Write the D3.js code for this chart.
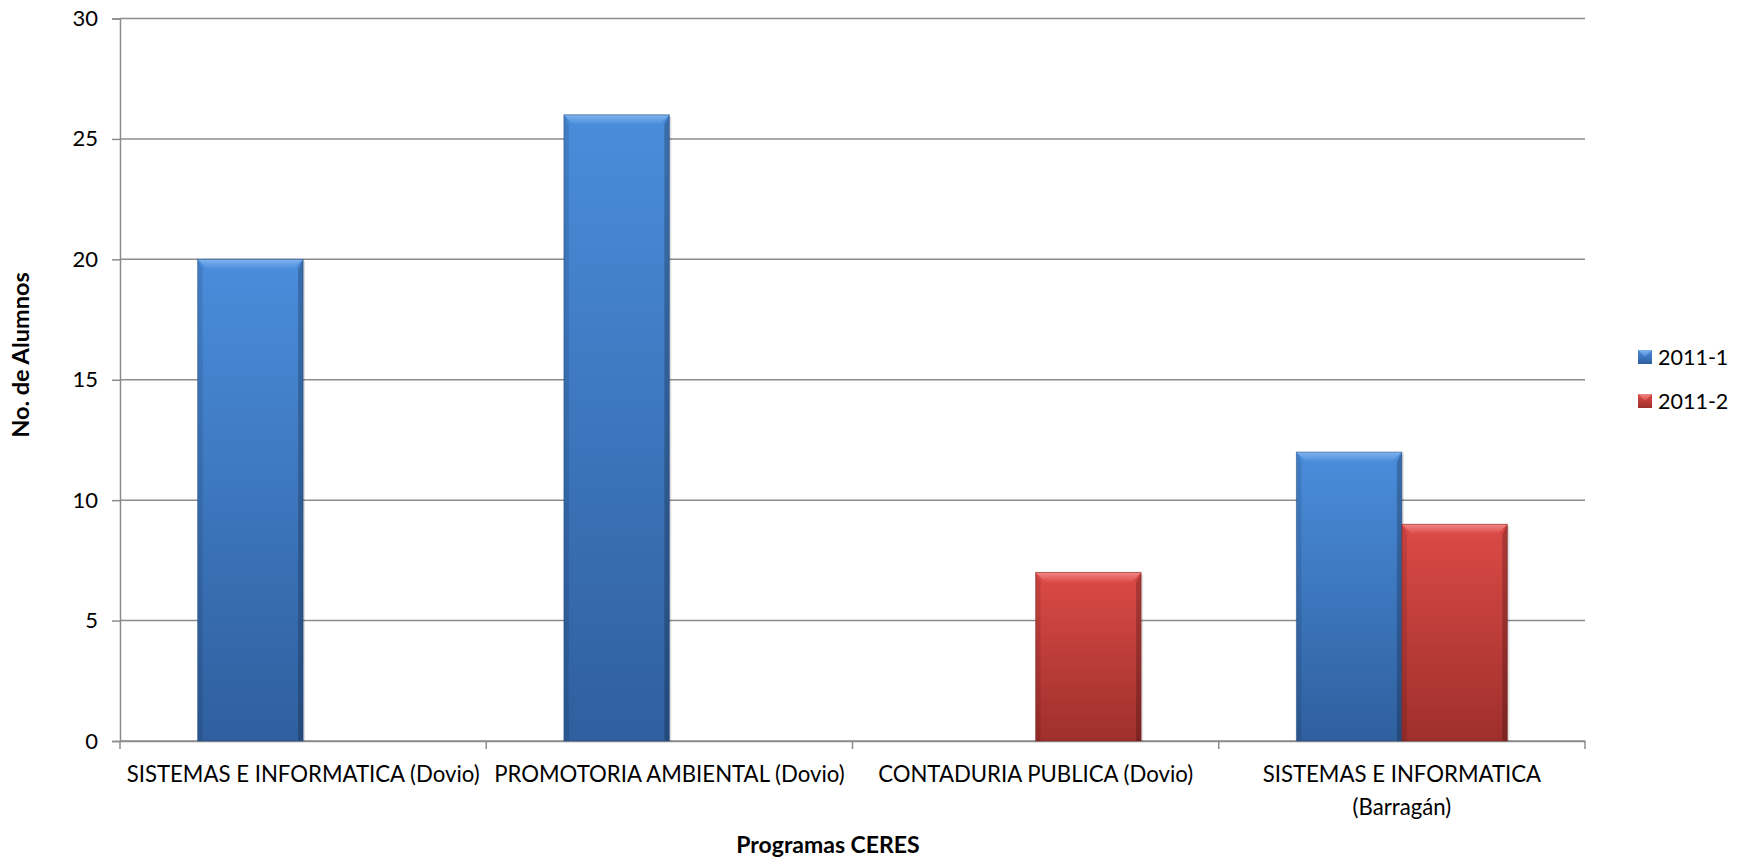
<!DOCTYPE html>
<html><head><meta charset="utf-8">
<script src="https://cdn.jsdelivr.net/npm/d3@7"></script>
<style>body{margin:0;background:#fff;} svg{display:block;font-family:Lato, "Open Sans", sans-serif;}</style>
</head><body>
<svg id="c" width="1741" height="859"></svg>
<script>
const categories = ["SISTEMAS E INFORMATICA (Dovio)", "PROMOTORIA AMBIENTAL (Dovio)", "CONTADURIA PUBLICA (Dovio)", "SISTEMAS E INFORMATICA (Barragán)"];
const categoryLines = [["SISTEMAS E INFORMATICA (Dovio)"], ["PROMOTORIA AMBIENTAL (Dovio)"], ["CONTADURIA PUBLICA (Dovio)"], ["SISTEMAS E INFORMATICA", "(Barragán)"]];
const seriesNames = ["2011-1", "2011-2"];
const values2011_1 = [20, 26, 0, 12];
const values2011_2 = [0, 0, 7, 9];
const yTicks = [0, 5, 10, 15, 20, 25, 30];

const svg = d3.select("#c");
const L = 120, R = 1585, T = 18.5, B = 741;
const x = d3.scaleBand().domain(categories).range([L, R]).paddingInner(0).paddingOuter(0);
const y = d3.scaleLinear().domain([0, 30]).range([B, T]);

const defs = svg.append("defs");
const pal = {"2011-1": {top:"#4a8ddb", bot:"#2f5f9e", hi:"#7fb3ee", dark:"#23477a"},
             "2011-2": {top:"#dc4a46", bot:"#9e2f2c", hi:"#f08784", dark:"#7a2220"}};
seriesNames.forEach((s,i)=>{
  const g = defs.append("linearGradient").attr("id","g"+i).attr("x1",0).attr("y1",0).attr("x2",0).attr("y2",1);
  g.append("stop").attr("offset","0%").attr("stop-color",pal[s].top);
  g.append("stop").attr("offset","100%").attr("stop-color",pal[s].bot);
  const h = defs.append("linearGradient").attr("id","h"+i).attr("x1",0).attr("y1",0).attr("x2",0).attr("y2",1);
  h.append("stop").attr("offset","0%").attr("stop-color",pal[s].hi);
  h.append("stop").attr("offset","100%").attr("stop-color",pal[s].top);
});

// gridlines
svg.append("g").selectAll("line").data(yTicks).join("line")
  .attr("x1", L).attr("x2", R).attr("y1", d=>y(d)).attr("y2", d=>y(d))
  .attr("stroke", "#8c8c8c").attr("stroke-width", 1.5);

// y axis
const ya = svg.append("g").attr("transform",`translate(${L},0)`)
  .call(d3.axisLeft(y).tickValues(yTicks).tickSize(8).tickPadding(14));
ya.select(".domain").attr("stroke","#8c8c8c").attr("stroke-width",1.5);
ya.selectAll(".tick line").attr("stroke","#8c8c8c").attr("stroke-width",1.5);
ya.selectAll("text").attr("font-size",22).attr("fill","#000").attr("font-family","Lato, sans-serif");

// x axis
const xa = svg.append("g").attr("transform",`translate(0,${B})`)
  .call(d3.axisBottom(x).tickSize(0).tickFormat(""));
xa.select(".domain").attr("stroke","#8c8c8c").attr("stroke-width",1.5);
svg.append("g").selectAll("line").data(categories.map(c=>x(c)).concat([R])).join("line")
  .attr("x1",d=>d).attr("x2",d=>d).attr("y1",B).attr("y2",B+8).attr("stroke","#8c8c8c").attr("stroke-width",1.5);

// category labels
categories.forEach((c,i)=>{
  const t = svg.append("text").attr("x", x(c)+x.bandwidth()/2).attr("y", 782)
    .attr("text-anchor","middle").attr("font-size",22.2).attr("fill","#000");
  categoryLines[i].forEach((ln,j)=> t.append("tspan").attr("x", x(c)+x.bandwidth()/2).attr("dy", j===0?0:33).text(ln));
});

// bars
const data = [];
categories.forEach((c,i)=>{
  [values2011_1[i], values2011_2[i]].forEach((v,j)=>{ if (v>0) data.push({c, s:seriesNames[j], j, v}); });
});
const bw = x.bandwidth()*0.288;
const off = (x.bandwidth() - 2*bw)/2;
const bars = svg.append("g").selectAll("g").data(data).join("g")
  .attr("transform", d=>`translate(${x(d.c)+off+d.j*bw},${y(d.v)})`);
bars.append("rect").attr("x",2).attr("y",2).attr("width",bw).attr("height",d=>y(0)-y(d.v)-2).attr("fill","rgba(0,0,0,0.12)");
bars.append("rect").attr("width",bw).attr("height",d=>y(0)-y(d.v)).attr("fill",d=>`url(#g${d.j})`);
const bev = 10;
bars.append("path").attr("d", d=>`M0,0 L${bw},0 L${bw-bev},${bev} L${bev},${bev} Z`).attr("fill",d=>`url(#h${d.j})`);
bars.append("path").attr("d", d=>{const h=y(0)-y(d.v); return `M0,0 L${bev*0.5},${bev} L${bev*0.5},${h} L0,${h} Z`;})
  .attr("fill","rgba(0,0,0,0.10)");
bars.append("path").attr("d", d=>{const h=y(0)-y(d.v); return `M${bw},0 L${bw-bev*0.5},${bev} L${bw-bev*0.5},${h} L${bw},${h} Z`;})
  .attr("fill","rgba(0,0,0,0.22)");
bars.append("rect").attr("width",bw).attr("height",d=>y(0)-y(d.v)).attr("fill","none").attr("stroke",d=>pal[d.s].dark).attr("stroke-opacity",0.5).attr("stroke-width",1);

// legend
const lg = svg.append("g").selectAll("g").data(seriesNames).join("g")
  .attr("transform",(d,i)=>`translate(1638,${357+i*44})`);
lg.append("rect").attr("x",0).attr("y",-7).attr("width",14).attr("height",14).attr("fill",(d,i)=>`url(#g${i})`);
lg.append("path").attr("d","M0,-7 L14,-7 L7,0 Z").attr("fill",(d,i)=>`url(#h${i})`);
lg.append("text").attr("x",20).attr("y",0).attr("dy","0.35em").attr("font-size",21.5).text(d=>d);

// axis titles
svg.append("text").attr("x",828).attr("y",845).attr("dy","0.35em").attr("text-anchor","middle")
  .attr("font-size",23).attr("font-weight","bold").text("Programas CERES");
svg.append("text").attr("transform","translate(21,355) rotate(-90)").attr("dy","0.35em").attr("text-anchor","middle")
  .attr("font-size",23.5).attr("font-weight","bold").text("No. de Alumnos");
</script>
</body></html>
